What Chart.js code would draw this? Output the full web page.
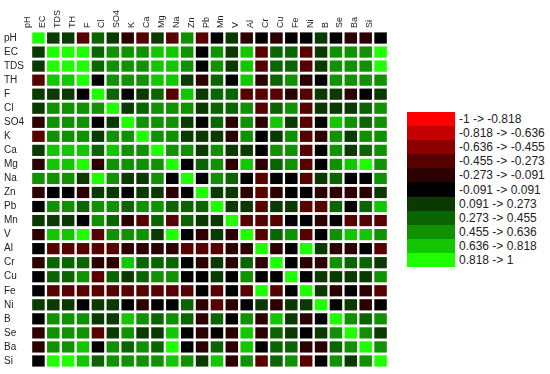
<!DOCTYPE html>
<html>
<head>
<meta charset="utf-8">
<script src="https://cdn.jsdelivr.net/npm/chart.js"></script>
<style>
  body { margin: 0; background: #fff; }
  #wrap { position: absolute; left: 0; top: 0; width: 392px; height: 374px; }
  #legend { position: absolute; left: 407px; top: 112px; font-family: "Liberation Sans", Arial, sans-serif; font-size: 12px; color: #222; }
  .lg-row { display: flex; align-items: center; height: 14.1px; }
  .lg-box { width: 48px; height: 14.1px; margin-right: 4px; }
</style>
</head>
<body>
<div id="wrap"><canvas id="heat"></canvas></div>
<div id="legend"></div>
<script>
const variables = ["pH", "EC", "TDS", "TH", "F", "Cl", "SO4", "K", "Ca", "Mg", "Na", "Zn", "Pb", "Mn", "V", "Al", "Cr", "Cu", "Fe", "Ni", "B", "Se", "Ba", "Si"];

// correlation matrix, one row per variable (same order as columns)
const corr = [
  [1, .18, .18, -.35, .36, .18, -.18, -.35, .18, -.35, .54, -.35, 0, .18, -.18, 0, -.18, 0, 0, .18, 0, -.18, -.18, 0], // pH
  [.18, 1, .9, .9, .36, .54, .54, .54, .72, .72, .54, 0, .54, .18, .72, -.42, .36, .36, -.42, .18, .54, .54, .54, .9], // EC
  [.18, .9, 1, .9, .36, .54, .54, .54, .72, .72, .54, 0, .54, .18, .72, -.42, .36, .36, -.42, .18, .54, .54, .54, .9], // TDS
  [-.35, .72, .72, 1, 0, .54, .54, .54, .72, .72, .18, -.18, .36, 0, .72, -.18, .36, .54, -.18, 0, .54, .54, .54, .54], // TH
  [.18, .18, .18, 0, 1, .36, 0, .18, .36, -.35, .72, .18, .36, .36, -.35, -.35, -.35, -.18, -.35, .18, .18, -.18, 0, .18], // F
  [.18, .54, .54, .54, .54, 1, .18, .36, .54, .54, .54, .18, .36, .36, .54, -.42, .36, .54, -.42, .18, .18, .18, .36, .54], // Cl
  [-.18, .54, .54, .54, 0, .18, 1, .54, .54, .54, .18, 0, .36, -.18, .54, -.18, .72, .18, -.35, 0, .72, .54, .36, .54], // SO4
  [-.35, .54, .54, .54, .18, .54, .54, 1, .54, .54, .18, .18, .18, -.18, .54, 0, .18, .54, -.35, -.18, .54, .18, .54, .54], // K
  [.18, .72, .72, .72, .36, .72, .54, .54, 1, .54, .54, .18, .54, .18, .18, 0, .54, .54, -.42, 0, .54, .18, .36, .54], // Ca
  [-.18, .72, .72, .9, -.18, .54, .54, .54, .54, 1, 0, .36, .54, -.18, .72, -.18, .36, .54, -.42, 0, .54, .72, .9, .54], // Mg
  [.54, .54, .54, .18, .9, .54, .18, .18, .54, 0, 1, 0, .54, .36, 0, -.35, 0, 0, -.35, .18, .36, 0, 0, .54], // Na
  [-.18, 0, 0, -.18, .18, .18, 0, .18, .18, -.18, 0, 1, .18, .18, -.18, -.35, -.18, 0, 0, -.18, -.18, -.18, -.18, .18], // Zn
  [0, .54, .54, .36, .54, .54, .36, .54, .54, .36, .36, .36, 1, .18, .18, -.35, .18, .18, -.35, -.35, .36, 0, .36, .72], // Pb
  [.18, .18, .18, 0, .54, .36, -.18, -.35, .36, -.35, .36, .18, .18, 1, -.35, -.35, -.35, 0, 0, -.18, 0, -.35, -.35, -.35], // Mn
  [-.18, .72, .72, .9, -.35, .54, .54, .54, .18, .9, 0, -.18, .18, -.18, 1, -.35, .36, .54, -.42, 0, .54, .72, .72, .54], // V
  [0, -.42, -.42, -.35, -.35, -.35, -.18, -.18, -.18, -.18, -.35, -.35, -.35, -.18, -.18, 1, -.18, 0, .9, .18, -.18, -.18, 0, -.35], // Al
  [-.18, .36, .36, .36, -.18, -.18, .72, .36, .36, .36, 0, -.18, .18, -.18, .36, -.18, 1, 0, -.18, -.18, .54, .36, .36, .18], // Cr
  [0, .36, .36, .54, -.35, .36, .18, .36, .54, .54, 0, 0, .18, 0, .54, 0, 0, 1, 0, .18, .18, .18, .18, .54], // Cu
  [0, -.42, -.42, -.42, -.35, -.42, -.35, -.35, -.42, -.42, -.42, 0, -.35, 0, -.35, .9, -.35, 0, 1, .18, -.18, 0, -.18, -.35], // Fe
  [.18, .18, .18, 0, .18, .18, 0, -.18, 0, 0, .36, -.18, -.35, -.18, 0, .18, -.18, .18, .18, 1, 0, .18, -.18, 0], // Ni
  [0, .54, .54, .54, .18, .18, .72, .54, .36, .54, .36, -.18, .36, 0, .54, -.18, .72, .18, -.18, 0, 1, .54, .36, .54], // B
  [-.18, .54, .54, .54, -.35, .18, .54, .18, .18, .72, 0, -.18, 0, -.18, .72, -.18, .36, .18, 0, .18, .54, 1, .54, .18], // Se
  [-.18, .54, .54, .72, 0, .54, .36, .54, .36, .9, 0, -.18, .36, -.18, .72, 0, .36, .36, -.18, -.18, .36, .54, 1, .54], // Ba
  [0, .9, .9, .72, .36, .54, .54, .54, .54, .72, .54, .18, .72, -.18, .54, -.35, .36, .54, -.35, 0, .54, .18, .54, 1], // Si
];

const binLabels = ["-1 -> -0.818", "-0.818 -> -0.636", "-0.636 -> -0.455", "-0.455 -> -0.273", "-0.273 -> -0.091", "-0.091 -> 0.091", "0.091 -> 0.273", "0.273 -> 0.455", "0.455 -> 0.636", "0.636 -> 0.818", "0.818 -> 1"];
const binColors = ["#ff0000", "#c40000", "#8c0000", "#560000", "#2c0000", "#000000", "#0a3a00", "#0a6400", "#109200", "#12c600", "#1eff00"];

function colorFor(v) {
  const i = Math.min(10, Math.max(0, Math.floor((v + 1) / (2 / 11))));
  return binColors[i];
}

function renderLegend() {
  const box = document.getElementById("legend");
  binLabels.forEach((l, i) => {
    const row = document.createElement("div");
    row.className = "lg-row";
    row.innerHTML = `<div class="lg-box" style="background:${binColors[i]}"></div><span>${l}</span>`;
    box.appendChild(row);
  });
}

function drawHeatmap() {
  const datasets = corr.map((row, r) => ({
    label: variables[r],
    data: row.map(() => [r + 0.1, r + 0.9]),
    backgroundColor: row.map((v) => colorFor(v)),
    borderWidth: 0,
    grouped: false,
    barPercentage: 0.84,
    categoryPercentage: 1,
  }));

  new Chart(document.getElementById("heat"), {
    type: "bar",
    data: { labels: variables, datasets },
    options: {
      responsive: true,
      maintainAspectRatio: false,
      animation: false,
      layout: { padding: { left: 4, right: 4, top: 0, bottom: 5 } },
      plugins: { legend: { display: false }, tooltip: { enabled: false } },
      scales: {
        x: {
          position: "top",
          grid: { display: false, drawTicks: false },
          border: { display: false },
          ticks: {
            autoSkip: false, minRotation: 90, maxRotation: 90, padding: 3,
            color: "#222", font: { family: "Liberation Sans", size: 9 },
          },
          afterFit: (axis) => { axis.height = 31; },
        },
        y: {
          type: "linear",
          reverse: true,
          min: 0,
          max: variables.length,
          grid: { display: false, drawTicks: false },
          border: { display: false },
          ticks: {
            autoSkip: false, crossAlign: "far", padding: 0,
            color: "#222", font: { family: "Liberation Sans", size: 10 },
            callback: (v) => variables[Math.floor(v)],
          },
          afterBuildTicks: (axis) => {
            axis.ticks = variables.map((_, i) => ({ value: i + 0.5 }));
          },
          afterFit: (axis) => { axis.width = 27; },
        },
      },
    },
  });
}

document.addEventListener("DOMContentLoaded", () => {
  renderLegend();
  drawHeatmap();
});
</script>
</body>
</html>
